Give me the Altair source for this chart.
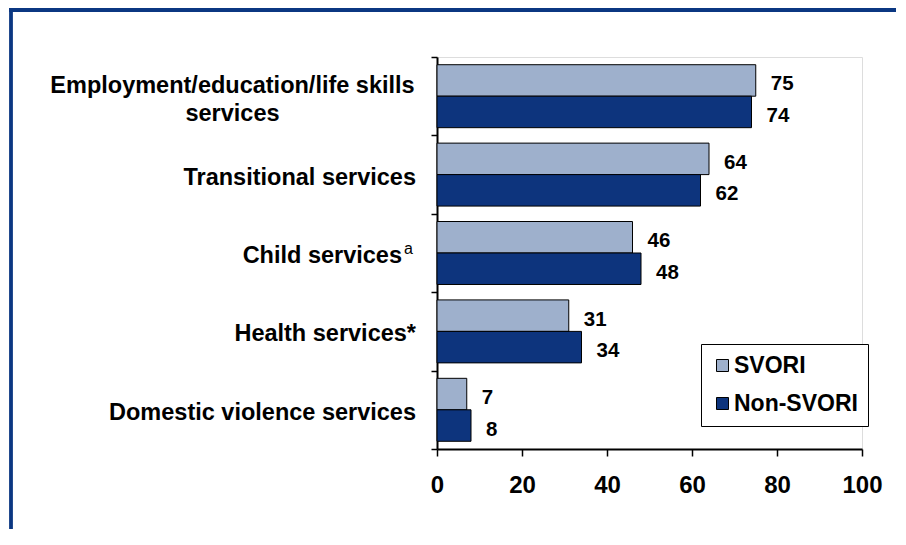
import altair as alt
import pandas as pd

# ---- data ----
categories = [
    "Employment/education/life skills services",
    "Transitional services",
    "Child services",
    "Health services*",
    "Domestic violence services",
]
series = ["SVORI", "Non-SVORI"]
svori_values = [75, 64, 46, 31, 7]
non_svori_values = [74, 62, 48, 34, 8]
x_ticks = [0, 20, 40, 60, 80, 100]
colors = ["#9eb0cc", "#0d347d"]
frame_color = "#0b3782"

# long table for bars
rows = []
for c, a, b in zip(categories, svori_values, non_svori_values):
    rows.append({"cat": c, "series": "SVORI", "value": a})
    rows.append({"cat": c, "series": "Non-SVORI", "value": b})
bars_df = pd.DataFrame(rows)

FONT = "Liberation Sans"
W, H = 425, 392

y_enc = alt.Y("cat:N", sort=categories,
              scale=alt.Scale(domain=categories, paddingInner=0, paddingOuter=0),
              axis=alt.Axis(labels=False, title=None, tickBand="extent", tickSize=6,
                            tickColor="black", tickWidth=1.5, domainColor="black",
                            domainWidth=2, grid=False))
yoff_enc = alt.YOffset("series:N", sort=series,
                       scale=alt.Scale(domain=series, paddingInner=0, paddingOuter=0.245))

bars = alt.Chart(bars_df).mark_bar(stroke="black", strokeWidth=1).encode(
    y=y_enc,
    yOffset=yoff_enc,
    x=alt.X("value:Q", scale=alt.Scale(domain=[0, 100], nice=False),
            axis=alt.Axis(values=x_ticks, title=None, grid=False, tickSize=7,
                          tickColor="black", tickWidth=1.5, domainColor="black",
                          domainWidth=2, labelFontSize=24, labelFontWeight="bold",
                          labelColor="black", labelPadding=17, labelFont=FONT,
                          labelFlush=False, labelOverlap=False)),
    color=alt.Color("series:N", sort=series,
                    scale=alt.Scale(domain=series, range=colors),
                    legend=alt.Legend(title=None, orient="none", legendX=264, legendY=287,
                                      fillColor="white", strokeColor="black",
                                      padding=10, symbolType="square", symbolSize=144,
                                      symbolStrokeColor="black", symbolStrokeWidth=1,
                                      labelFontSize=23, labelFontWeight="bold",
                                      labelFont=FONT, labelColor="black",
                                      rowPadding=14, labelOffset=0, labelLimit=300)),
)

values = alt.Chart(bars_df).mark_text(
    align="left", baseline="middle", dx=15, dy=4, fontSize=20.5, fontWeight="bold",
    font=FONT, color="black"
).encode(y=alt.Y("cat:N", sort=categories), yOffset=alt.YOffset("series:N", sort=series),
         x="value:Q", text="value:Q")

# category labels (real text)
single_df = pd.DataFrame({"cat": [categories[1], categories[3], categories[4]],
                          "label": [categories[1], categories[3], categories[4]]})
lab_single = alt.Chart(single_df).mark_text(
    align="right", baseline="middle", dy=3, fontSize=23.5, fontWeight="bold",
    font=FONT, color="black"
).encode(y=alt.Y("cat:N", sort=categories), x=alt.value(-21), text="label:N")

child_df = pd.DataFrame({"cat": [categories[2]], "label": ["Child services"], "sup": ["a"]})
lab_child = alt.Chart(child_df).mark_text(
    align="right", baseline="middle", dy=3, fontSize=23.5, fontWeight="bold",
    font=FONT, color="black"
).encode(y=alt.Y("cat:N", sort=categories), x=alt.value(-35), text="label:N")
lab_sup = alt.Chart(child_df).mark_text(
    align="right", baseline="middle", dy=-4, fontSize=16, fontWeight="normal",
    font=FONT, color="black"
).encode(y=alt.Y("cat:N", sort=categories), x=alt.value(-24), text="sup:N")

two_df = pd.DataFrame({"cat": [categories[0]],
                       "label": [["Employment/education/life skills", "services"]]})
lab_two = alt.Chart(two_df).mark_text(
    align="center", baseline="middle", dy=-10, fontSize=23.5, fontWeight="bold",
    font=FONT, color="black", lineHeight=28
).encode(y=alt.Y("cat:N", sort=categories), x=alt.value(-204.5), text="label")

# decorative frame (left and top blue border)
frame_left = alt.Chart(pd.DataFrame({"k": [0]})).mark_rule(
    color=frame_color, strokeWidth=3.8).encode(
    x=alt.value(-426), y=alt.value(-49), y2=alt.value(H + 82))
frame_top = alt.Chart(pd.DataFrame({"k": [0]})).mark_rule(
    color=frame_color, strokeWidth=3.8).encode(
    y=alt.value(-47), x=alt.value(-428), x2=alt.value(W + 40))

chart = alt.layer(
    frame_left, frame_top, bars, values, lab_single, lab_child, lab_sup, lab_two
).properties(
    width=W, height=H,
    autosize=alt.AutoSizeParams(type="none"),
    padding={"left": 429, "top": 49, "right": 34, "bottom": 80},
).configure_view(stroke=None).configure(font=FONT, background="white")

chart.save("out.html", embed_options={"renderer": "svg", "actions": False})
